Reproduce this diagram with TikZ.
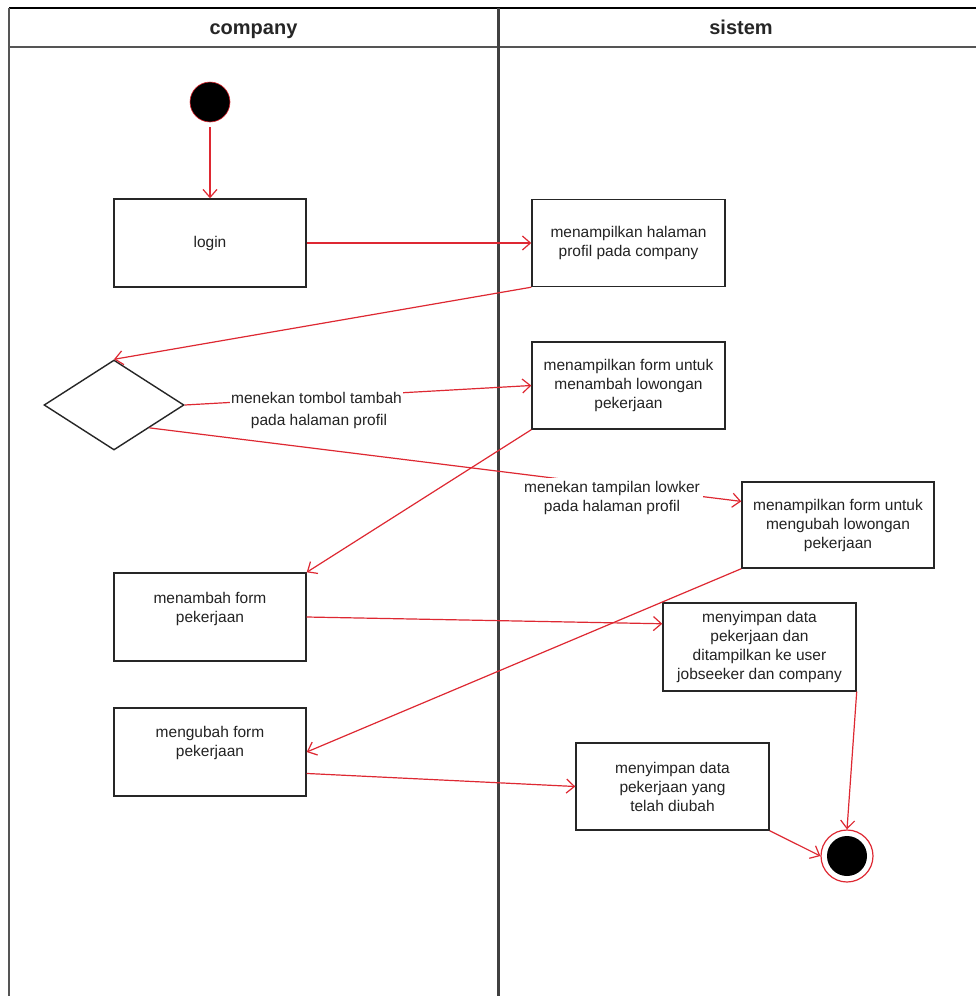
\documentclass[tikz,border=0pt]{standalone}
\usepackage{fontspec}
\setmainfont{Liberation Sans}
\usetikzlibrary{arrows.meta,shapes.geometric,calc}
\definecolor{flowred}{RGB}{222,40,50}
\definecolor{lanegray}{RGB}{85,85,85}
\definecolor{txtgray}{RGB}{35,35,35}
\newcommand{\boxfont}{\fontsize{15.5}{19}\selectfont}
\newcommand{\headfont}{\fontsize{20}{24}\selectfont\bfseries}
\begin{document}
\begin{tikzpicture}[x=1pt,y=-1pt,
  act/.style={draw=black!85, line width=1.4pt, minimum width=192pt, minimum height=87pt,
    inner sep=0pt, align=center, font=\boxfont, text=txtgray},
  txt/.style={align=center, font=\boxfont, text=txtgray, inner sep=0pt},
  flow/.style={draw=flowred, line width=1.2pt,
    -{Straight Barb[length=8pt,width=14pt,line width=1.2pt]}},
  lane/.style={draw=lanegray, line width=2pt},
  lbl/.style={fill=white, align=center, font=\boxfont, text=txtgray, inner sep=3pt}
]
\useasboundingbox (0,0) rectangle (976,996);
\fill[white] (0,0) rectangle (976,996);
% swimlanes
\draw[line width=2pt, black] (9,8) -- (976,8);
\draw[lane] (9,47) -- (976,47);
\draw[lane] (9,8) -- (9,996);
\draw[line width=3pt, black!75] (498,8) -- (498,996);
\node[font=\headfont, text=black!85, anchor=base] (hc) at (253.5,34) {company};
\node[font=\headfont, text=black!85, anchor=base] (hs) at (741,34) {sistem};
% nodes
\node[circle, fill=black, draw=flowred, line width=0.6pt, minimum size=40pt, inner sep=0pt] (start) at (210,102) {};
\node[act, minimum height=88pt] (login) at (210,243) {login};
\node[act, minimum width=193pt] (A) at (628.5,243) {menampilkan halaman\\profil pada company};
\node[diamond, draw=black!85, line width=1.4pt, minimum width=140pt, minimum height=90pt, inner sep=0pt] (dia) at (114,405) {};
\node[act, minimum width=193pt] (B) at (628.5,385.5) {menampilkan form untuk\\menambah lowongan\\pekerjaan};
\node[act, minimum height=86pt] (C) at (838,525) {menampilkan form untuk\\mengubah lowongan\\pekerjaan};
\node[act, minimum height=88pt] (D) at (210,617) {};
\node[txt] (Dt) at (210,609) {menambah form\\pekerjaan};
\node[act, minimum width=193pt, minimum height=88pt] (E) at (759.5,647) {menyimpan data\\pekerjaan dan\\ditampilkan ke user\\jobseeker dan company};
\node[act, minimum height=88pt] (F) at (210,752) {};
\node[txt] (Ft) at (210,743) {mengubah form\\pekerjaan};
\node[act, minimum width=193pt] (G) at (672.5,786.5) {menyimpan data\\pekerjaan yang\\telah diubah};
\node[circle, draw=flowred, fill=white, line width=1.2pt, minimum size=52pt, inner sep=0pt] (endo) at (847,856) {};
\node[circle, fill=black, minimum size=40pt, inner sep=0pt] (endi) at (endo) {};
% connectors
\draw[flow, shorten <=5pt] (start) -- (login.north);
\draw[flow] (login.east) -- (A.west);
\draw[flow] (A.south west) -- (dia.north);
\draw[flow] (dia.east) -- (B.west);
\node[lbl, inner sep=1pt] (l1a) at (316.5,398) {menekan tombol tambah};
\node[txt] (l1b) at (319,421) {pada halaman profil};
\draw[flow] (dia.south east) -- ($(C.north west)!0.23!(C.south west)$);
\node[lbl] (l2) at (612,498) {menekan tampilan lowker\\pada halaman profil};
\draw[flow] (B.south west) -- (D.north east);
\draw[flow] (D.east) -- ($(E.north west)!0.24!(E.south west)$);
\draw[flow] (C.south west) -- (F.east);
\draw[flow] ($(F.north east)!0.74!(F.south east)$) -- (G.west);
\draw[flow] (E.south east) -- (endo.north);
\draw[flow] (G.south east) -- (endo.west);
\end{tikzpicture}
\end{document}
